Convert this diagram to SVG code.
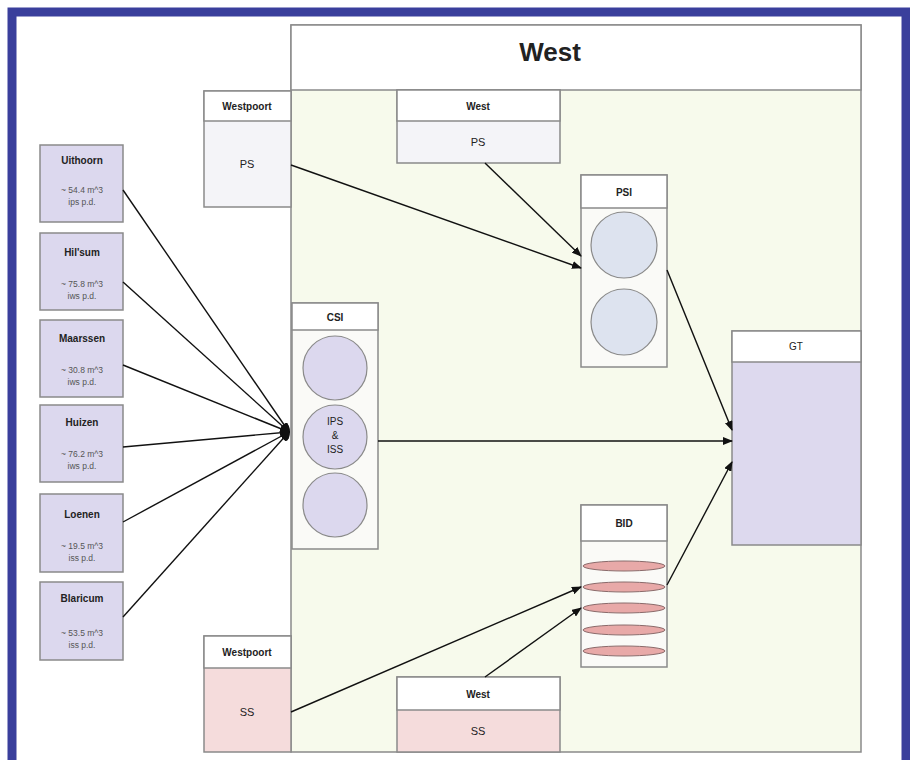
<svg xmlns="http://www.w3.org/2000/svg" width="910" height="760" viewBox="0 0 910 760">
<style>
.box{stroke:#8a8a8a;stroke-width:1.5}
.hdr{fill:#ffffff;stroke:#8a8a8a;stroke-width:1.5}
.t{font-family:"Liberation Sans",Arial,sans-serif;fill:#222;text-anchor:middle}
.b{font-weight:bold}
.s{font-size:10px}
.m{font-size:11px}
.small{font-size:8.5px;fill:#555}
.lav{fill:#dcd8ee}
.pink{fill:#f5dcdc}
.gray{fill:#f4f4f8}
.cir{stroke:#8a8a8a;stroke-width:1.2}
.con{stroke:#111;stroke-width:1.4;fill:none}
</style>
<defs>
<marker id="ah" markerWidth="10" markerHeight="8" refX="9" refY="4" orient="auto" markerUnits="userSpaceOnUse">
<path d="M0,0 L10,4 L0,8 Z" fill="#111"/>
</marker>
</defs>
<rect x="0" y="0" width="910" height="760" fill="#ffffff"/>
<rect x="12" y="12" width="894" height="760" fill="none" stroke="#3a3f9c" stroke-width="9"/>

<g id="west-main">
<rect x="291" y="25" width="570" height="727" fill="#f7faec" class="box"/>
<rect x="291" y="25" width="570" height="65" class="hdr"/>
<text x="550" y="61" class="t b" font-size="26">West</text>
</g>

<g id="westpoort-ps">
<rect x="204" y="91" width="87" height="116" class="box gray"/>
<rect x="204" y="91" width="87" height="30" class="hdr"/>
<text x="247" y="110" class="t b s">Westpoort</text>
<text x="247" y="168" class="t m" fill="#444">PS</text>
</g>

<g id="west-ps">
<rect x="397" y="90" width="163" height="73" class="box gray"/>
<rect x="397" y="90" width="163" height="31" class="hdr"/>
<text x="478" y="110" class="t b s">West</text>
<text x="478" y="146" class="t m">PS</text>
</g>

<g id="psi">
<rect x="581" y="175" width="86" height="192" fill="#fafaf7" class="box"/>
<rect x="581" y="175" width="86" height="33" class="hdr"/>
<text x="624" y="196" class="t b s">PSI</text>
<circle cx="624" cy="245" r="33" fill="#dde3ef" class="cir"/>
<circle cx="624" cy="322" r="33" fill="#dde3ef" class="cir"/>
</g>

<g id="csi">
<rect x="292" y="303" width="86" height="246" fill="#fafaf7" class="box"/>
<rect x="292" y="303" width="86" height="27" class="hdr"/>
<text x="335" y="321" class="t b s">CSI</text>
<circle cx="335" cy="368" r="32" class="lav cir"/>
<circle cx="335" cy="437" r="32" class="lav cir"/>
<circle cx="335" cy="505" r="32" class="lav cir"/>
<text x="335" y="425" class="t s">IPS</text>
<text x="335" y="439" class="t s">&amp;</text>
<text x="335" y="453" class="t s">ISS</text>
</g>

<g id="gt">
<rect x="732" y="331" width="129" height="214" fill="#ddd9ee" class="box"/>
<rect x="732" y="331" width="129" height="31" class="hdr"/>
<text x="796" y="350" class="t s">GT</text>
</g>

<g id="bid">
<rect x="581" y="505" width="86" height="162" fill="#fafaf7" class="box"/>
<rect x="581" y="505" width="86" height="36" class="hdr"/>
<text x="624" y="527" class="t b s">BID</text>
<ellipse cx="624" cy="566" rx="41" ry="5" fill="#e8a9a8" stroke="#8a6a6a" stroke-width="1"/>
<ellipse cx="624" cy="587" rx="41" ry="5" fill="#e8a9a8" stroke="#8a6a6a" stroke-width="1"/>
<ellipse cx="624" cy="608" rx="41" ry="5" fill="#e8a9a8" stroke="#8a6a6a" stroke-width="1"/>
<ellipse cx="624" cy="630" rx="41" ry="5" fill="#e8a9a8" stroke="#8a6a6a" stroke-width="1"/>
<ellipse cx="624" cy="651" rx="41" ry="5" fill="#e8a9a8" stroke="#8a6a6a" stroke-width="1"/>
</g>

<g id="westpoort-ss">
<rect x="204" y="636" width="87" height="116" class="box pink"/>
<rect x="204" y="636" width="87" height="32" class="hdr"/>
<text x="247" y="656" class="t b s">Westpoort</text>
<text x="247" y="716" class="t m">SS</text>
</g>

<g id="west-ss">
<rect x="397" y="677" width="163" height="75" class="box pink"/>
<rect x="397" y="677" width="163" height="33" class="hdr"/>
<text x="478" y="698" class="t b s">West</text>
<text x="478" y="735" class="t m">SS</text>
</g>

<g id="uithoorn">
<rect x="40" y="145" width="83" height="77" class="box lav"/>
<text x="82" y="164" class="t b s">Uithoorn</text>
<text x="82" y="193" class="t small">~ 54.4 m^3</text>
<text x="82" y="205" class="t small">ips p.d.</text>
</g>
<g id="hilversum">
<rect x="40" y="233" width="83" height="77" class="box lav"/>
<text x="82" y="256" class="t b s">Hil'sum</text>
<text x="82" y="287" class="t small">~ 75.8 m^3</text>
<text x="82" y="299" class="t small">iws p.d.</text>
</g>
<g id="maarssen">
<rect x="40" y="320" width="83" height="77" class="box lav"/>
<text x="82" y="342" class="t b s">Maarssen</text>
<text x="82" y="373" class="t small">~ 30.8 m^3</text>
<text x="82" y="385" class="t small">iws p.d.</text>
</g>
<g id="huizen">
<rect x="40" y="405" width="83" height="77" class="box lav"/>
<text x="82" y="426" class="t b s">Huizen</text>
<text x="82" y="457" class="t small">~ 76.2 m^3</text>
<text x="82" y="469" class="t small">iws p.d.</text>
</g>
<g id="loenen">
<rect x="40" y="494" width="83" height="78" class="box lav"/>
<text x="82" y="518" class="t b s">Loenen</text>
<text x="82" y="549" class="t small">~ 19.5 m^3</text>
<text x="82" y="561" class="t small">iss p.d.</text>
</g>
<g id="blaricum">
<rect x="40" y="582" width="83" height="78" class="box lav"/>
<text x="82" y="602" class="t b s">Blaricum</text>
<text x="82" y="636" class="t small">~ 53.5 m^3</text>
<text x="82" y="648" class="t small">iss p.d.</text>
</g>

<g id="connectors">
<line x1="123" y1="190" x2="289" y2="432" class="con" marker-end="url(#ah)"/>
<line x1="123" y1="282" x2="289" y2="432" class="con" marker-end="url(#ah)"/>
<line x1="123" y1="365" x2="289" y2="432" class="con" marker-end="url(#ah)"/>
<line x1="123" y1="447" x2="289" y2="432" class="con" marker-end="url(#ah)"/>
<line x1="123" y1="522" x2="289" y2="432" class="con" marker-end="url(#ah)"/>
<line x1="123" y1="617" x2="289" y2="432" class="con" marker-end="url(#ah)"/>
<ellipse cx="286" cy="432" rx="4" ry="9" fill="#111"/>
<line x1="291" y1="165" x2="581" y2="268" class="con" marker-end="url(#ah)"/>
<line x1="485" y1="163" x2="581" y2="256" class="con" marker-end="url(#ah)"/>
<line x1="667" y1="270" x2="732" y2="430" class="con" marker-end="url(#ah)"/>
<line x1="378" y1="441" x2="732" y2="441" class="con" marker-end="url(#ah)"/>
<line x1="667" y1="585" x2="732" y2="462" class="con" marker-end="url(#ah)"/>
<line x1="291" y1="712" x2="581" y2="587" class="con" marker-end="url(#ah)"/>
<line x1="485" y1="677" x2="581" y2="608" class="con" marker-end="url(#ah)"/>
</g>
</svg>
